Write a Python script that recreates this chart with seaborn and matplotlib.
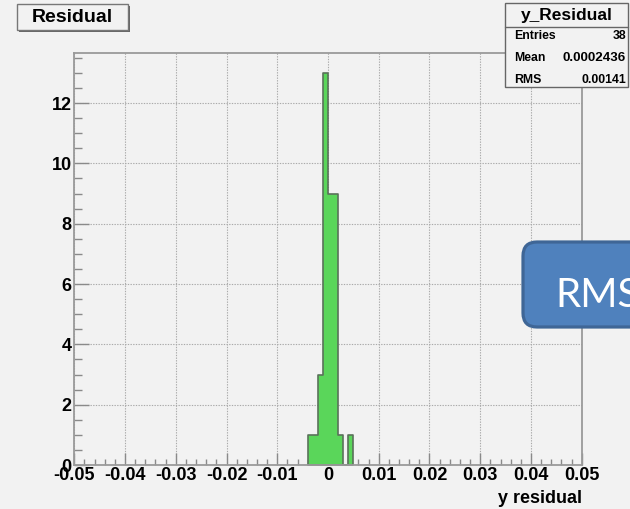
import numpy as np
import pandas as pd
import matplotlib
matplotlib.use("Agg")
import matplotlib.pyplot as plt
from matplotlib.patches import Rectangle, FancyBboxPatch
from matplotlib.ticker import MultipleLocator, FixedLocator
import seaborn as sns

# ---------------- data ----------------
bin_edges = [-0.004, -0.003, -0.002, -0.001, 0.0, 0.001, 0.002, 0.003, 0.004, 0.005]
bin_centers = [-0.0035, -0.0025, -0.0015, -0.0005, 0.0005, 0.0015, 0.0025, 0.0035, 0.0045]
bin_counts = [1, 1, 3, 13, 9, 9, 1, 0, 1]

x_ticks = [-0.05, -0.04, -0.03, -0.02, -0.01, 0.0, 0.01, 0.02, 0.03, 0.04, 0.05]
x_tick_labels = ["-0.05", "-0.04", "-0.03", "-0.02", "-0.01", "0", "0.01", "0.02", "0.03", "0.04", "0.05"]
y_ticks = [0, 2, 4, 6, 8, 10, 12]
y_tick_labels = ["0", "2", "4", "6", "8", "10", "12"]

hist_title = "Residual"
stats_name = "y_Residual"
stats_rows = [("Entries", "38"), ("Mean", "0.0002436"), ("RMS", "0.00141")]
x_label = "y residual"
callout_text = "RMS"

df = pd.DataFrame({"residual": bin_centers, "count": bin_counts})

# ---------------- style ----------------
sns.set_theme(style="ticks")
BG = "#f2f2f2"
plt.rcParams["font.family"] = ["Liberation Sans", "DejaVu Sans"]
plt.rcParams["axes.unicode_minus"] = False

W, H = 630, 509
fig = plt.figure(figsize=(W / 100, H / 100), dpi=100, facecolor=BG)

def px_box(x0, y0, x1, y1):
    return [x0 / W, 1 - y1 / H, (x1 - x0) / W, (y1 - y0) / H]

ax = fig.add_axes(px_box(74.3, 53.3, 581.7, 465))
ax.set_facecolor(BG)

sns.histplot(data=df, x="residual", weights="count", bins=bin_edges,
             element="step", fill=True, color="#5ad65a", alpha=1.0,
             edgecolor="#5a725a", linewidth=1.2, ax=ax, zorder=2)

ax.set_xlim(-0.05, 0.05)
ax.set_ylim(0, 13.65)
ax.xaxis.set_major_locator(FixedLocator(x_ticks))
ax.set_xticklabels(x_tick_labels)
ax.xaxis.set_minor_locator(MultipleLocator(0.002))
ax.yaxis.set_major_locator(FixedLocator(y_ticks))
ax.set_yticklabels(y_tick_labels)
ax.yaxis.set_minor_locator(MultipleLocator(0.5))

ax.grid(True, which="major", linestyle=(0, (1.2, 1.2)), color="#aaaaaa", linewidth=0.8, zorder=0)
ax.set_axisbelow(True)

for s in ax.spines.values():
    s.set_color("#9a9a9a")
    s.set_linewidth(1.3)
    s.set_visible(True)

ax.tick_params(axis="x", which="major", direction="in", length=8.6, width=1.0, color="#8a8a8a",
               pad=1.5, labelsize=13, top=False)
ax.tick_params(axis="x", which="minor", direction="in", length=4.3, width=1.0, color="#8a8a8a", top=False)
ax.tick_params(axis="y", which="major", direction="in", length=10.8, width=1.0, color="#8a8a8a",
               pad=2, labelsize=13, right=False)
ax.tick_params(axis="y", which="minor", direction="in", length=5.6, width=1.0, color="#8a8a8a", right=False)
for lab in ax.get_xticklabels() + ax.get_yticklabels():
    lab.set_fontweight("bold")
    lab.set_color("black")

ax.set_ylabel("")
ax.set_xlabel(x_label, fontsize=13, fontweight="bold", color="black")
ax.xaxis.label.set_horizontalalignment("right")
ax.xaxis.label.set_verticalalignment("baseline")
ax.xaxis.set_label_coords(1.0, -(503 - 465) / (465 - 53.3))

# ---------------- overlay (pixel coordinates) ----------------
ov = fig.add_axes([0, 0, 1, 1], zorder=10)
ov.set_xlim(0, W)
ov.set_ylim(H, 0)
ov.axis("off")

# title box with shadow
ov.add_patch(Rectangle((18.5, 6), 111, 26, facecolor="#666666", edgecolor="none"))
ov.add_patch(Rectangle((16.7, 4), 111, 26, facecolor=BG, edgecolor="#777777", linewidth=1.0))
ov.text(72, 17.5, hist_title, ha="center", va="center", fontsize=14, fontweight="bold", color="black")

# stats box
ov.add_patch(Rectangle((505, 3), 123, 84, facecolor=BG, edgecolor="#666666", linewidth=1.0))
ov.plot([505, 628], [26.5, 26.5], color="#666666", linewidth=1.0)
ov.text(567, 15.5, stats_name, ha="center", va="center", fontsize=12.5, fontweight="bold", color="black")
row_sizes = [8.8, 9.6, 8.8]
for i, (k, v) in enumerate(stats_rows):
    yy = 36 + i * 22
    ov.text(514, yy, k, ha="left", va="center", fontsize=8.8, fontweight="bold", color="black")
    ov.text(626, yy, v, ha="right", va="center", fontsize=row_sizes[i], fontweight="bold", color="black")

# callout box
ov.add_patch(FancyBboxPatch((523, 242), 140, 85,
                            boxstyle="round,pad=0,rounding_size=14",
                            facecolor="#4f81bd", edgecolor="#3f6696", linewidth=2.3,
                            clip_on=True))
ov.text(555, 307, callout_text, ha="left", va="baseline", fontsize=29,
        family=["Lato", "DejaVu Sans"], color="white")

fig.savefig("out.png", dpi=100, facecolor=BG)
